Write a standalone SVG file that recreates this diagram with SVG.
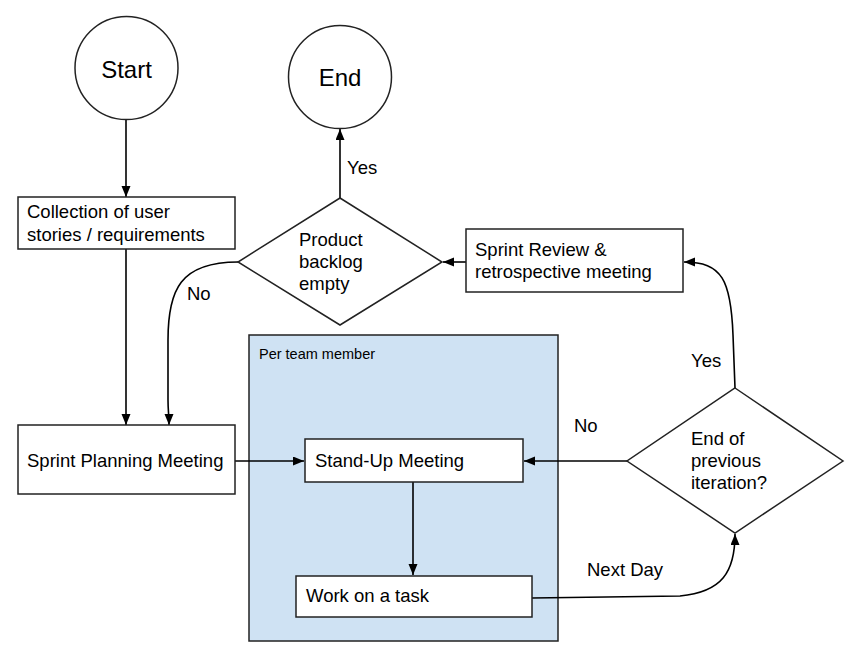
<svg xmlns="http://www.w3.org/2000/svg" width="861" height="657" viewBox="0 0 861 657">
<style>
text{font-family:"Liberation Sans",Arial,sans-serif;font-size:18.5px;fill:#000}
.big{font-size:24px}
.small{font-size:14.5px}
.box{fill:#fff;stroke:#222;stroke-width:1.5}
.edge{fill:none;stroke:#000;stroke-width:1.6}
</style>
<defs>
<marker id="ah" markerUnits="userSpaceOnUse" markerWidth="12" markerHeight="10" refX="11" refY="4.5" orient="auto">
<path d="M0,0 L11,4.5 L0,9 z" fill="#000"/>
</marker>
</defs>
<rect x="0" y="0" width="861" height="657" fill="#fff"/>
<g id="container">
<rect x="249" y="335" width="309" height="306" fill="#cfe2f3" stroke="#222" stroke-width="1.5"/>
<text class="small" x="259" y="359">Per team member</text>
</g>
<g id="connectors">
<path class="edge" d="M126,120 L126,197" marker-end="url(#ah)"/>
<path class="edge" d="M126,249 L126,425" marker-end="url(#ah)"/>
<path class="edge" d="M340,198 L340,129" marker-end="url(#ah)"/>
<path class="edge" d="M466,262 L443,262" marker-end="url(#ah)"/>
<path class="edge" d="M238,262 C180,262 168,290 168,340 L168,400 C168,410 169,415 169,425" marker-end="url(#ah)"/>
<path class="edge" d="M235,461 L304,461" marker-end="url(#ah)"/>
<path class="edge" d="M413,482 L413,575" marker-end="url(#ah)"/>
<path class="edge" d="M627,461 L524,461" marker-end="url(#ah)"/>
<path class="edge" d="M735,388 L733,335 C731,280 722,262 684,262" marker-end="url(#ah)"/>
<path class="edge" d="M532,598 L680,596 C722,592 735,572 735,534" marker-end="url(#ah)"/>
<text x="347" y="174">Yes</text>
<text x="187" y="300">No</text>
<text x="691" y="367">Yes</text>
<text x="574" y="432">No</text>
<text x="587" y="576">Next Day</text>
</g>
<g id="start">
<circle class="box" cx="126.5" cy="68" r="51.5"/>
<text class="big" x="126.5" y="78" text-anchor="middle">Start</text>
</g>
<g id="end">
<circle class="box" cx="340" cy="77" r="51.5"/>
<text class="big" x="340" y="86" text-anchor="middle">End</text>
</g>
<g id="collection">
<rect class="box" x="18" y="197" width="217" height="52"/>
<text x="27" y="218">Collection of user</text>
<text x="27" y="241">stories / requirements</text>
</g>
<g id="planning">
<rect class="box" x="18" y="425" width="217" height="69"/>
<text x="27" y="467">Sprint Planning Meeting</text>
</g>
<g id="backlog">
<polygon class="box" points="340,198 442,262 340,325 238,262"/>
<text x="299" y="246">Product</text>
<text x="299" y="268">backlog</text>
<text x="299" y="290">empty</text>
</g>
<g id="review">
<rect class="box" x="466" y="229" width="217" height="63"/>
<text x="475" y="256">Sprint Review &amp;</text>
<text x="475" y="278">retrospective meeting</text>
</g>
<g id="standup">
<rect class="box" x="305" y="439" width="218" height="43"/>
<text x="315" y="467">Stand-Up Meeting</text>
</g>
<g id="work">
<rect class="box" x="296" y="576" width="236" height="41"/>
<text x="306" y="602">Work on a task</text>
</g>
<g id="iteration">
<polygon class="box" points="735,388 843,461 735,533 627,461"/>
<text x="691" y="445">End of</text>
<text x="691" y="467">previous</text>
<text x="691" y="489">iteration?</text>
</g>
</svg>
